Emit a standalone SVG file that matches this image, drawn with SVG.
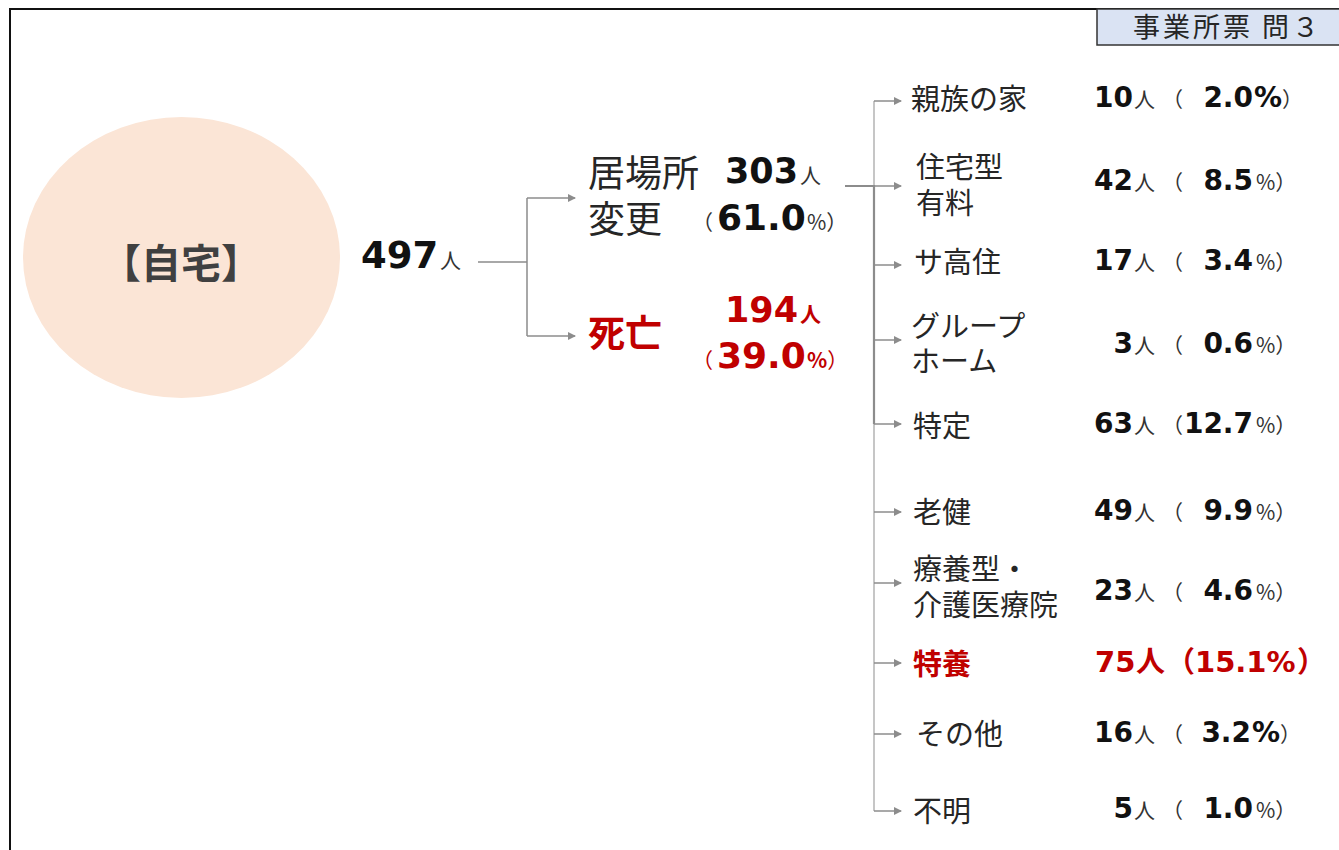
<svg xmlns="http://www.w3.org/2000/svg" width="1339" height="850" viewBox="0 0 1339 850">
<style>
.jp{font-family:"Noto Sans CJK JP","Noto Sans",sans-serif;fill:#262626}
.lab{font-family:"Noto Sans CJK JP","Noto Sans",sans-serif;fill:#262626;font-size:29px}
.num{font-family:"DejaVu Sans",Verdana,sans-serif;font-weight:bold;fill:#111}
.sm{font-family:"Noto Sans CJK JP",sans-serif;font-weight:normal;font-size:21px;fill:#333}
.ln{stroke:#8c8c8c;stroke-width:1.5;fill:none}
.ln2{stroke:#8c8c8c;stroke-width:2.2;fill:none}
.lt{stroke:#b3b3b3;stroke-width:1.5;fill:none}
</style>
<defs>
<marker id="ah" markerWidth="8" markerHeight="8" refX="7" refY="4" orient="auto" markerUnits="userSpaceOnUse">
<path d="M0,0 L8,4 L0,8 Z" fill="#8c8c8c"/>
</marker>
</defs>
<rect x="0" y="0" width="1339" height="850" fill="#fff"/>
<rect x="10" y="9" width="1340" height="860" fill="none" stroke="#111" stroke-width="2"/>
<g id="title">
<rect x="1097" y="9" width="250" height="36" fill="#dae3f3" stroke="#333" stroke-width="1.5"/>
<text x="1133" y="37" class="jp" font-size="27" letter-spacing="3" fill="#222">事業所票 問３</text>
</g>
<g id="home">
<ellipse cx="181.5" cy="257.5" rx="158.5" ry="140.5" fill="#fbe5d6"/>
<text x="181" y="278" text-anchor="middle" class="jp" font-size="40" font-weight="bold" style="fill:#404040">【自宅】</text>
</g>
<g id="total">
<text x="361" y="268" class="num" font-size="37">497</text>
<text x="440" y="268" class="sm">人</text>
</g>
<g id="moved">
<text class="jp" font-size="37"><tspan x="588" y="187">居場所</tspan><tspan x="588" y="233">変更</tspan></text>
<text x="725" y="183" class="num" font-size="35">303</text>
<text x="800" y="183" class="sm">人</text>
<text x="692" y="230" class="sm">（</text>
<text x="717" y="230" class="num" font-size="36">61.0</text>
<text x="807" y="230" class="sm">%）</text>
</g>
<g id="death">
<text x="588" y="347" class="jp" font-size="37" font-weight="bold" style="fill:#c00000">死亡</text>
<text x="725" y="322" class="num" font-size="35" style="fill:#c00000">194</text>
<text x="800" y="322" class="sm" style="fill:#c00000;font-weight:bold">人</text>
<text x="692" y="368" class="sm" style="fill:#c00000">（</text>
<text x="717" y="368" class="num" font-size="36" style="fill:#c00000">39.0</text>
<text x="807" y="368" class="sm" style="fill:#c00000"><tspan font-weight="bold">%</tspan>）</text>
</g>
<g id="connectors">
<path class="ln" d="M478,262 H527 M527,198 V336"/>
<path class="ln" d="M527,198 H575" marker-end="url(#ah)"/>
<path class="ln" d="M527,336 H575" marker-end="url(#ah)"/>
<path class="lt" d="M874,101 V811"/>
<path class="ln2" d="M845,186 H874 V424"/>
<path class="ln" d="M874,101 H901" marker-end="url(#ah)"/>
<path class="ln" d="M874,186 H901" marker-end="url(#ah)"/>
<path class="ln" d="M874,265 H901" marker-end="url(#ah)"/>
<path class="ln" d="M874,340 H901" marker-end="url(#ah)"/>
<path class="ln" d="M874,424 H901" marker-end="url(#ah)"/>
<path class="ln" d="M874,512 H901" marker-end="url(#ah)"/>
<path class="ln" d="M874,583 H901" marker-end="url(#ah)"/>
<path class="ln" d="M874,663 H901" marker-end="url(#ah)"/>
<path class="ln" d="M874,734 H901" marker-end="url(#ah)"/>
<path class="ln" d="M874,811 H901" marker-end="url(#ah)"/>
</g>
<g id="r1">
<text x="911" y="110" class="lab">親族の家</text>
<text x="1133" y="107" class="num" font-size="28" text-anchor="end">10</text>
<text x="1134" y="107" class="sm">人</text>
<text x="1162" y="107" class="sm">（</text>
<text x="1253" y="107" class="num" font-size="28" text-anchor="end">2.0</text>
<text x="1254" y="107" class="num" font-size="28">%<tspan class="sm">）</tspan></text>
</g>
<g id="r2">
<text class="lab"><tspan x="916" y="178">住宅型</tspan><tspan x="916" y="214">有料</tspan></text>
<text x="1133" y="190" class="num" font-size="28" text-anchor="end">42</text>
<text x="1134" y="190" class="sm">人</text>
<text x="1162" y="190" class="sm">（</text>
<text x="1253" y="190" class="num" font-size="28" text-anchor="end">8.5</text>
<text x="1256" y="190" class="sm">%）</text>
</g>
<g id="r3">
<text x="914" y="273" class="lab">サ高住</text>
<text x="1133" y="270" class="num" font-size="28" text-anchor="end">17</text>
<text x="1134" y="270" class="sm">人</text>
<text x="1162" y="270" class="sm">（</text>
<text x="1253" y="270" class="num" font-size="28" text-anchor="end">3.4</text>
<text x="1256" y="270" class="sm">%）</text>
</g>
<g id="r4">
<text class="lab"><tspan x="911" y="337">グループ</tspan><tspan x="911" y="372">ホーム</tspan></text>
<text x="1133" y="353" class="num" font-size="28" text-anchor="end">3</text>
<text x="1134" y="353" class="sm">人</text>
<text x="1162" y="353" class="sm">（</text>
<text x="1253" y="353" class="num" font-size="28" text-anchor="end">0.6</text>
<text x="1256" y="353" class="sm">%）</text>
</g>
<g id="r5">
<text x="913" y="437" class="lab">特定</text>
<text x="1133" y="433" class="num" font-size="28" text-anchor="end">63</text>
<text x="1134" y="433" class="sm">人</text>
<text x="1162" y="433" class="sm">（</text>
<text x="1253" y="433" class="num" font-size="28" text-anchor="end">12.7</text>
<text x="1256" y="433" class="sm">%）</text>
</g>
<g id="r6">
<text x="913" y="523" class="lab">老健</text>
<text x="1133" y="520" class="num" font-size="28" text-anchor="end">49</text>
<text x="1134" y="520" class="sm">人</text>
<text x="1162" y="520" class="sm">（</text>
<text x="1253" y="520" class="num" font-size="28" text-anchor="end">9.9</text>
<text x="1256" y="520" class="sm">%）</text>
</g>
<g id="r7">
<text class="lab"><tspan x="913" y="580">療養型・</tspan><tspan x="913" y="616">介護医療院</tspan></text>
<text x="1133" y="600" class="num" font-size="28" text-anchor="end">23</text>
<text x="1134" y="600" class="sm">人</text>
<text x="1162" y="600" class="sm">（</text>
<text x="1253" y="600" class="num" font-size="28" text-anchor="end">4.6</text>
<text x="1256" y="600" class="sm">%）</text>
</g>
<g id="r8">
<text x="913" y="675" class="lab" font-weight="bold" style="fill:#c00000">特養</text>
<text x="1095" y="672" class="num" font-size="29" style="fill:#c00000">75</text>
<text x="1136" y="672" class="jp" font-size="29" font-weight="bold" style="fill:#c00000">人</text>
<text x="1166" y="672" class="jp" font-size="29" font-weight="bold" style="fill:#c00000">（</text>
<text x="1195" y="672" class="num" font-size="29" style="fill:#c00000">15.1%</text>
<text x="1297" y="672" class="jp" font-size="29" font-weight="bold" style="fill:#c00000">）</text>
</g>
<g id="r9">
<text x="916" y="745" class="lab">その他</text>
<text x="1133" y="742" class="num" font-size="28" text-anchor="end">16</text>
<text x="1134" y="742" class="sm">人</text>
<text x="1162" y="742" class="sm">（</text>
<text x="1251" y="742" class="num" font-size="28" text-anchor="end">3.2</text>
<text x="1252" y="742" class="num" font-size="28">%<tspan class="sm">）</tspan></text>
</g>
<g id="r10">
<text x="913" y="822" class="lab">不明</text>
<text x="1133" y="818" class="num" font-size="28" text-anchor="end">5</text>
<text x="1134" y="818" class="sm">人</text>
<text x="1162" y="818" class="sm">（</text>
<text x="1253" y="818" class="num" font-size="28" text-anchor="end">1.0</text>
<text x="1256" y="818" class="sm">%）</text>
</g>
</svg>
